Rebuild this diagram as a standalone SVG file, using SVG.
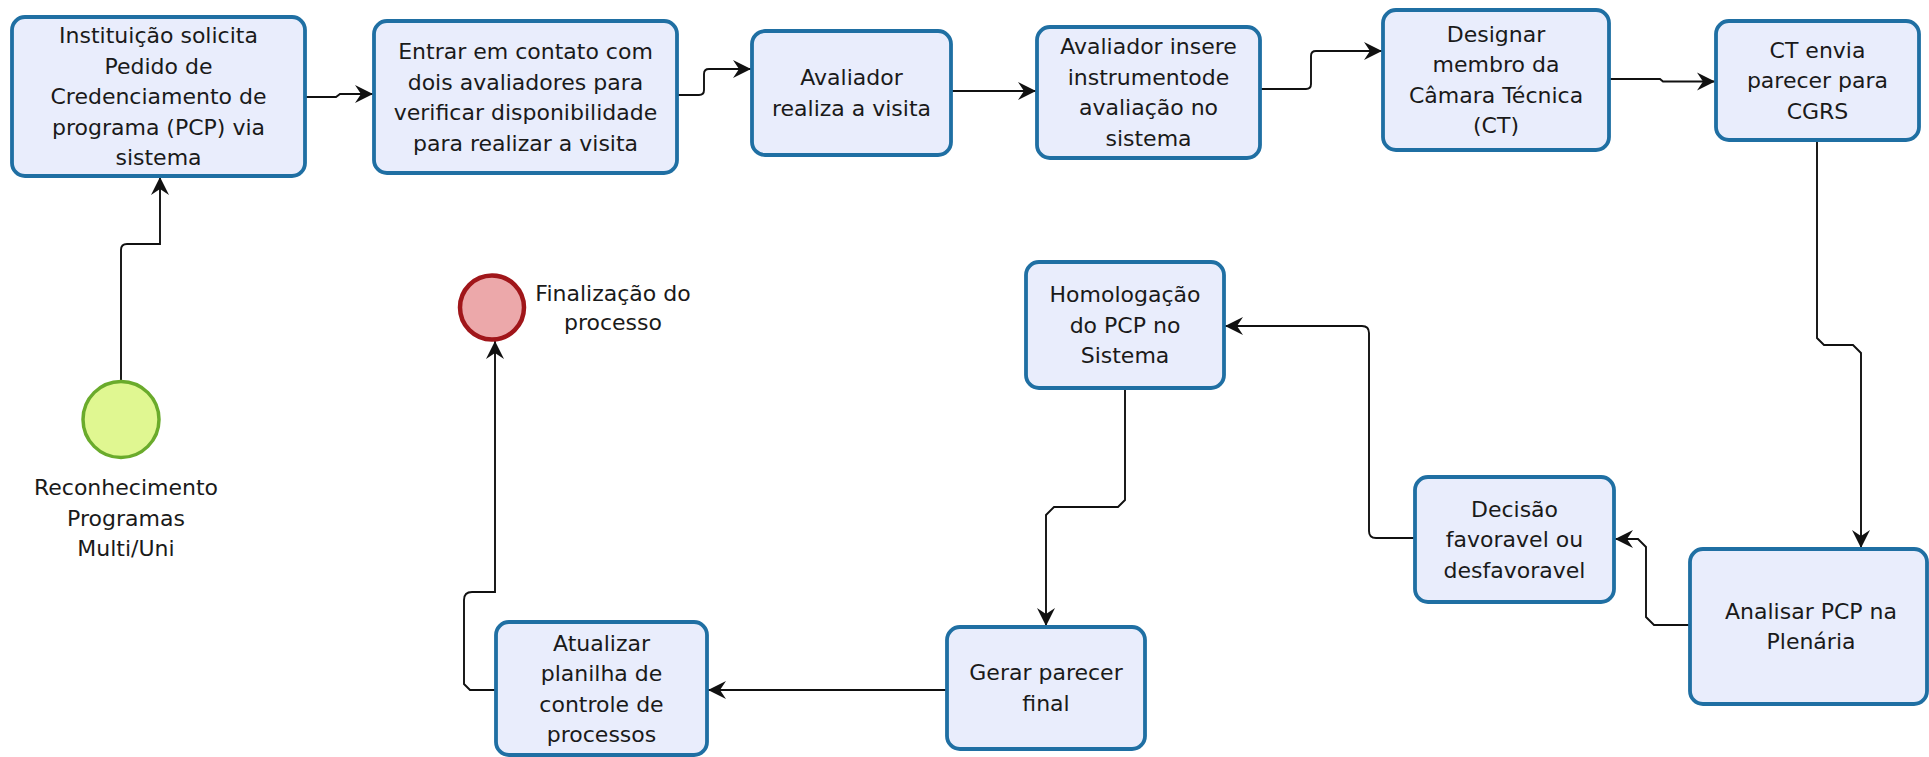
<svg xmlns="http://www.w3.org/2000/svg" width="1929" height="757" viewBox="0 0 1929 757">
<style>
.box{fill:#e9edfc;stroke:#1f6fa3;stroke-width:3.8}
.t{font-family:"DejaVu Sans",Verdana,sans-serif;font-size:22px;fill:#1a1a1a;text-anchor:middle}
.c{fill:none;stroke:#111;stroke-width:1.9}
</style>
<defs>
<marker id="arr" markerWidth="22" markerHeight="22" viewBox="-20 -11 22 22" refX="0" refY="0" orient="auto" markerUnits="userSpaceOnUse">
<path d="M0,0 L-18,-9 L-12,0 L-18,9 Z" fill="#111"/>
</marker>
</defs>
<rect width="1929" height="757" fill="#ffffff"/>
<g id="connectors">
<path class="c" marker-end="url(#arr)" d="M121,381 V250 Q121,244 127,244 H160 V177"/>
<path class="c" marker-end="url(#arr)" d="M305,97 H336 L340,94 H373"/>
<path class="c" marker-end="url(#arr)" d="M677,95 H699 Q704,95 704,90 V74 Q704,69 709,69 H751"/>
<path class="c" marker-end="url(#arr)" d="M951,91 H1036"/>
<path class="c" marker-end="url(#arr)" d="M1260,89 H1306 Q1311,89 1311,84 V56 Q1311,51 1316,51 H1382"/>
<path class="c" marker-end="url(#arr)" d="M1609,79 H1660 L1663,81.5 H1715"/>
<path class="c" marker-end="url(#arr)" d="M1817,140 V338 L1824,345 H1853 L1861,353 V548"/>
<path class="c" marker-end="url(#arr)" d="M1690,625 H1654 L1646,617 V547 L1638,539 H1615"/>
<path class="c" marker-end="url(#arr)" d="M1415,538 H1376 Q1369,538 1369,531 V333 Q1369,326 1362,326 H1225"/>
<path class="c" marker-end="url(#arr)" d="M1125,388 V500 L1118,507 H1054 L1046,515 V626"/>
<path class="c" marker-end="url(#arr)" d="M947,690 H708"/>
<path class="c" marker-end="url(#arr)" d="M496,690 H470 L464,684 V600 Q464,592 472,592 H495 V341"/>
</g>
<g id="start">
<circle cx="121" cy="419.5" r="38" fill="#e0f791" stroke="#6aab2b" stroke-width="3.5"/>
<text class="t"><tspan x="126" y="495">Reconhecimento</tspan><tspan x="126" y="525.5">Programas</tspan><tspan x="126" y="556">Multi/Uni</tspan></text>
</g>
<g id="end">
<circle cx="492" cy="307.5" r="32" fill="#eca8aa" stroke="#a0161a" stroke-width="4.5"/>
<text class="t"><tspan x="613" y="300.5">Finalização do</tspan><tspan x="613" y="330">processo</tspan></text>
</g>
<g id="n1">
<rect class="box" x="12" y="17" width="293" height="159" rx="13"/>
<text class="t"><tspan x="158.5" y="43">Instituição solicita</tspan><tspan x="158.5" y="73.5">Pedido de</tspan><tspan x="158.5" y="104">Credenciamento de</tspan><tspan x="158.5" y="134.5">programa (PCP) via</tspan><tspan x="158.5" y="165">sistema</tspan></text>
</g>
<g id="n2">
<rect class="box" x="374" y="21" width="303" height="152" rx="13"/>
<text class="t"><tspan x="525.5" y="59">Entrar em contato com</tspan><tspan x="525.5" y="89.5">dois avaliadores para</tspan><tspan x="525.5" y="120">verificar disponibilidade</tspan><tspan x="525.5" y="150.5">para realizar a visita</tspan></text>
</g>
<g id="n3">
<rect class="box" x="752" y="31" width="199" height="124" rx="13"/>
<text class="t"><tspan x="851.5" y="85">Avaliador</tspan><tspan x="851.5" y="115.5">realiza a visita</tspan></text>
</g>
<g id="n4">
<rect class="box" x="1037" y="27" width="223" height="131" rx="13"/>
<text class="t"><tspan x="1148.5" y="54">Avaliador insere</tspan><tspan x="1148.5" y="84.5">instrumentode</tspan><tspan x="1148.5" y="115">avaliação no</tspan><tspan x="1148.5" y="145.5">sistema</tspan></text>
</g>
<g id="n5">
<rect class="box" x="1383" y="10" width="226" height="140" rx="13"/>
<text class="t"><tspan x="1496" y="41.5">Designar</tspan><tspan x="1496" y="72">membro da</tspan><tspan x="1496" y="102.5">Câmara Técnica</tspan><tspan x="1496" y="133">(CT)</tspan></text>
</g>
<g id="n6">
<rect class="box" x="1716" y="21" width="203" height="119" rx="13"/>
<text class="t"><tspan x="1817.5" y="57.5">CT envia</tspan><tspan x="1817.5" y="88">parecer para</tspan><tspan x="1817.5" y="118.5">CGRS</tspan></text>
</g>
<g id="n7">
<rect class="box" x="1690" y="549" width="237" height="155" rx="13"/>
<text class="t"><tspan x="1811" y="618.5">Analisar PCP na</tspan><tspan x="1811" y="649">Plenária</tspan></text>
</g>
<g id="n8">
<rect class="box" x="1415" y="477" width="199" height="125" rx="13"/>
<text class="t"><tspan x="1514.5" y="516.5">Decisão</tspan><tspan x="1514.5" y="547">favoravel ou</tspan><tspan x="1514.5" y="577.5">desfavoravel</tspan></text>
</g>
<g id="n9">
<rect class="box" x="1026" y="262" width="198" height="126" rx="13"/>
<text class="t"><tspan x="1125" y="302">Homologação</tspan><tspan x="1125" y="332.5">do PCP no</tspan><tspan x="1125" y="363">Sistema</tspan></text>
</g>
<g id="n10">
<rect class="box" x="947" y="627" width="198" height="122" rx="13"/>
<text class="t"><tspan x="1046" y="680">Gerar parecer</tspan><tspan x="1046" y="710.5">final</tspan></text>
</g>
<g id="n11">
<rect class="box" x="496" y="622" width="211" height="133" rx="13"/>
<text class="t"><tspan x="601.5" y="650.5">Atualizar</tspan><tspan x="601.5" y="681">planilha de</tspan><tspan x="601.5" y="711.5">controle de</tspan><tspan x="601.5" y="742">processos</tspan></text>
</g>
</svg>
